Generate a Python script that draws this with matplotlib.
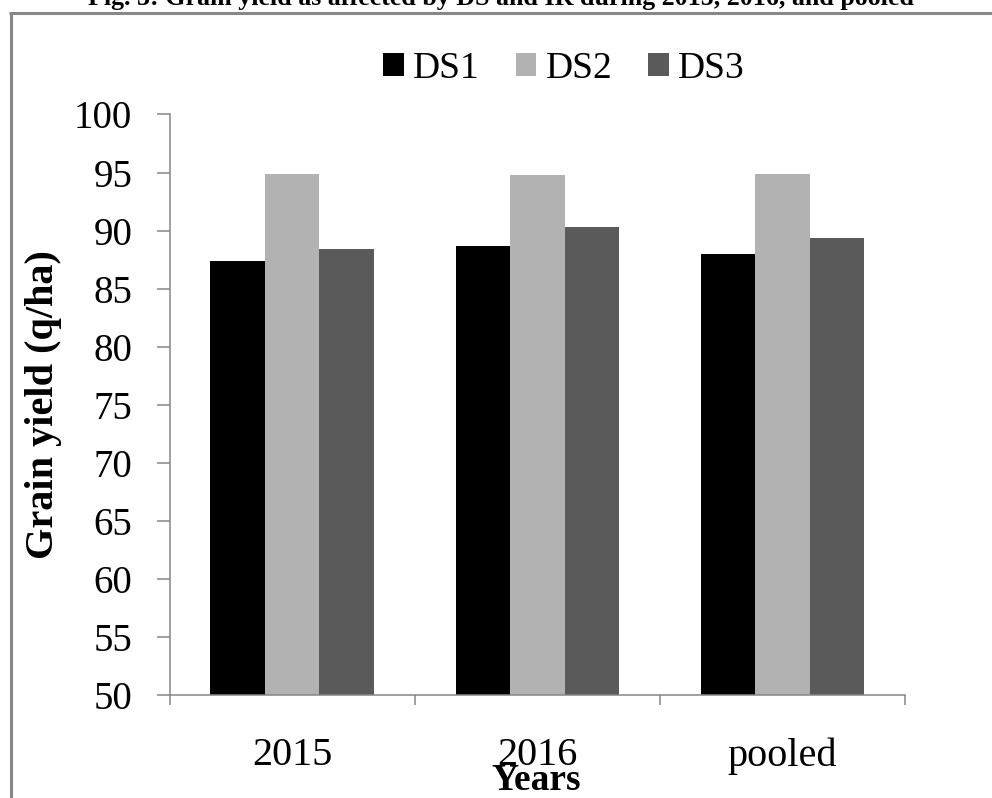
import matplotlib
matplotlib.use("Agg")
import matplotlib.pyplot as plt
import numpy as np
from matplotlib.patches import Patch
from matplotlib.lines import Line2D

plt.rcParams['font.family'] = ['Liberation Serif', 'DejaVu Serif']

categories = ["2015", "2016", "pooled"]
series_names = ["DS1", "DS2", "DS3"]
ds1 = [87.4, 88.7, 88.0]
ds2 = [94.9, 94.75, 94.9]
ds3 = [88.4, 90.3, 89.4]
colors = ["#000000", "#b2b2b2", "#5a5a5a"]
yticks = [50, 55, 60, 65, 70, 75, 80, 85, 90, 95, 100]
title = "Fig. 3: Grain yield as affected by DS and IR during 2015, 2016, and pooled"

W, H = 992, 798
fig = plt.figure(figsize=(W / 100, H / 100), dpi=100)
ax = fig.add_axes([169.6 / W, 1 - 694.7 / H, (905 - 169.6) / W, (694.7 - 114.5) / H])

x = np.arange(len(categories))
bw = 1 / 4.5
for i, (vals, c) in enumerate(zip([ds1, ds2, ds3], colors)):
    ax.bar(x + (i - 1) * bw, vals, width=bw, color=c, edgecolor='none', zorder=2)

ax.set_ylim(50, 100)
ax.set_xlim(-0.5, len(categories) - 0.5)
ax.set_yticks(yticks)
ax.set_yticklabels([str(t) for t in yticks], fontsize=28)
ax.set_xticks(x)
ax.set_xticklabels(categories, fontsize=29)
ax.set_xticks(np.arange(len(categories) + 1) - 0.5, minor=True)
ax.tick_params(axis='x', which='major', length=0, pad=30.5)
ax.tick_params(axis='x', which='minor', length=7.2, width=1.1, color='#868686', direction='out')
ax.tick_params(axis='y', which='major', length=9.4, width=1.1, color='#868686', direction='out', pad=17.5)

for s in ['top', 'right']:
    ax.spines[s].set_visible(False)
for s in ['left', 'bottom']:
    ax.spines[s].set_color('#868686')
    ax.spines[s].set_linewidth(1.1)

handles = [Patch(facecolor=c, edgecolor='none', label=n) for c, n in zip(colors, series_names)]
fig.legend(handles=handles, loc='center', bbox_to_anchor=(564 / W, 1 - 68.7 / H), ncol=3,
           frameon=False, fontsize=27, handlelength=0.55, handleheight=0.55,
           handletextpad=0.25, columnspacing=0.95, borderaxespad=0, borderpad=0)

fig.text(44 / W, 1 - 404.5 / H, "Grain yield (q/ha)", rotation=90, fontsize=29, fontweight='bold',
         ha='center', va='center')
fig.text(536.5 / W, 1 - 790 / H, "Years", fontsize=27, fontweight='bold', ha='center', va='baseline')
fig.text(501 / W, 1 - 5 / H, title, fontsize=18.7, fontweight='bold', ha='center', va='baseline')

# chart frame
fig.add_artist(Line2D([10.5 / W, 10.5 / W], [0, 1 - 12.5 / H], color='#888888', lw=2.2,
                      transform=fig.transFigure, solid_capstyle='butt'))
fig.add_artist(Line2D([9.4 / W, 1], [1 - 12.5 / H, 1 - 12.5 / H], color='#888888', lw=2.2,
                      transform=fig.transFigure, solid_capstyle='butt'))

fig.savefig("out.png", dpi=100)
